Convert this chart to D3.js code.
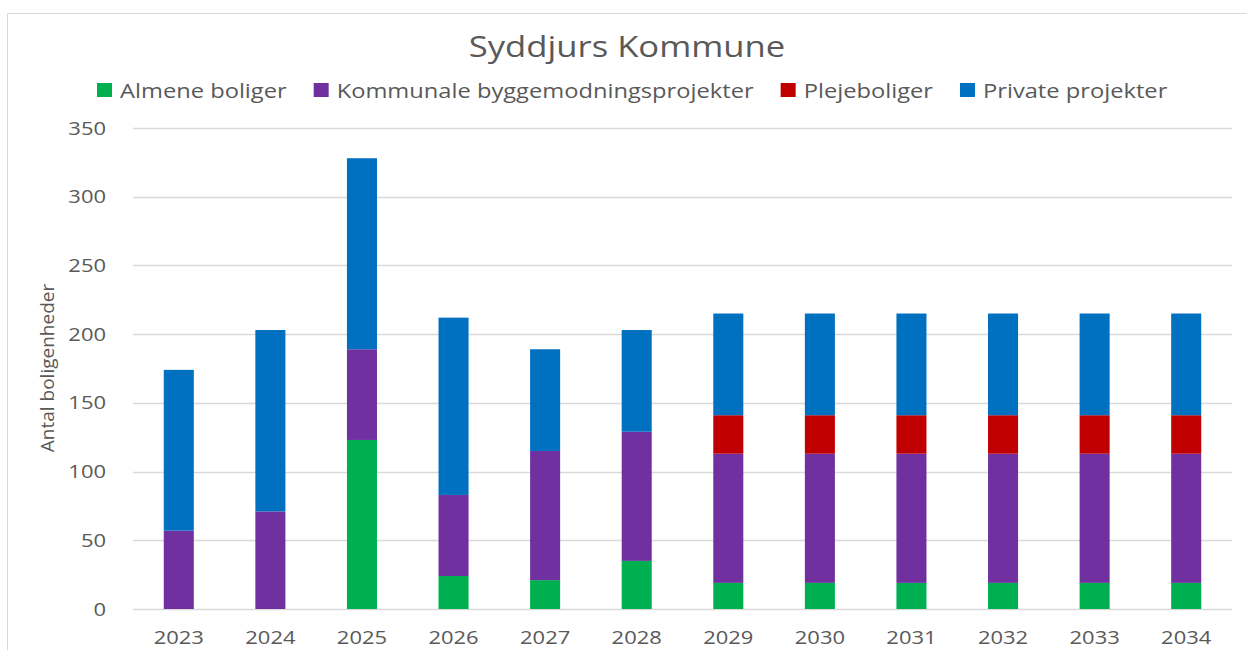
<!DOCTYPE html>
<html>
<head>
<meta charset="utf-8">
<script src="https://cdn.jsdelivr.net/npm/d3@7"></script>
<style>
  body { margin: 0; background: #fff; }
  text { font-family: "Open Sans", sans-serif; fill: #595959; }
</style>
</head>
<body>
<div id="chart"></div>
<script>
// data
var years = ["2023","2024","2025","2026","2027","2028","2029","2030","2031","2032","2033","2034"]
var almene = [0, 0, 123, 24, 21, 35, 19, 19, 19, 19, 19, 19]
var kommunale = [57, 71, 66, 59, 94, 94, 94, 94, 94, 94, 94, 94]
var pleje = [0, 0, 0, 0, 0, 0, 28, 28, 28, 28, 28, 28]
var private_ = [117, 132, 139, 129, 74, 74, 74, 74, 74, 74, 74, 74]
var seriesNames = ["Almene boliger", "Kommunale byggemodningsprojekter", "Plejeboliger", "Private projekter"]
var colors = ["#00B050", "#7030A0", "#C00000", "#0070C0"]
var yTicks = [0, 50, 100, 150, 200, 250, 300, 350]

var w = 1247, h = 650
var sx = 1.22 // the original picture is stretched sideways a bit

var svg = d3.select("#chart").append("svg")
  .attr("width", w)
  .attr("height", h)

svg.append("rect")
  .attr("x", 7.5).attr("y", 13.5)
  .attr("width", 1260).attr("height", 660)
  .attr("fill", "none")
  .attr("stroke", "#d9d9d9")

// places a text with the sideways stretch
function label(x, y, str, size, anchor, stretch) {
  var g = svg.append("g").attr("transform", "translate(" + x + "," + y + ") scale(" + (stretch || sx) + ",1)")
  return g.append("text")
    .attr("text-anchor", anchor || "middle")
    .style("font-size", size + "px")
    .text(str)
}

var table = years.map(function(y, i) {
  return { year: y, s0: almene[i], s1: kommunale[i], s2: pleje[i], s3: private_[i] }
})
var stack = d3.stack().keys(["s0", "s1", "s2", "s3"])(table)

var x = d3.scaleBand().domain(years).range([133, 1232]).paddingInner(0.672).paddingOuter(0.336)
var y = d3.scaleLinear().domain([0, 350]).range([609, 128])

// gridlines
svg.append("g").selectAll("line")
  .data(yTicks)
  .join("line")
  .attr("x1", 133).attr("x2", 1232)
  .attr("y1", function(d) { return Math.round(y(d)) + 0.5 })
  .attr("y2", function(d) { return Math.round(y(d)) + 0.5 })
  .attr("stroke", "#d9d9d9")
  .attr("stroke-width", 1.5)

yTicks.forEach(function(t) {
  label(106, y(t) + 6.5, t, 18, "end")
})
years.forEach(function(yr) {
  label(x(yr) + x.bandwidth() / 2, 644, yr, 18, "middle")
})

// bars
svg.append("g").selectAll("g")
  .data(stack)
  .join("g")
  .attr("fill", function(d, i) { return colors[i] })
  .selectAll("rect")
  .data(function(d) { return d })
  .join("rect")
  .attr("x", function(d) { return x(d.data.year) })
  .attr("width", x.bandwidth())
  .attr("y", function(d) { return y(d[1]) })
  .attr("height", function(d) { return y(d[0]) - y(d[1]) })

// title
label(627, 57, "Syddjurs Kommune", 30, "middle", 1.155)

// y axis title
svg.append("text")
  .attr("transform", "translate(54,368) rotate(-90)")
  .attr("text-anchor", "middle")
  .style("font-size", "19px")
  .text("Antal boligenheder")

// legend, laid out from the measured text widths
var lx = 97
seriesNames.forEach(function(name, i) {
  svg.append("rect")
    .attr("x", lx).attr("y", 83)
    .attr("width", 15).attr("height", 14)
    .attr("fill", colors[i])
  var t = label(lx + 23, 97.5, name, 19.5, "start", 1.215)
  var tw = t.node().getComputedTextLength() * 1.215
  lx = lx + 23 + tw + 27
})
</script>
</body>
</html>
